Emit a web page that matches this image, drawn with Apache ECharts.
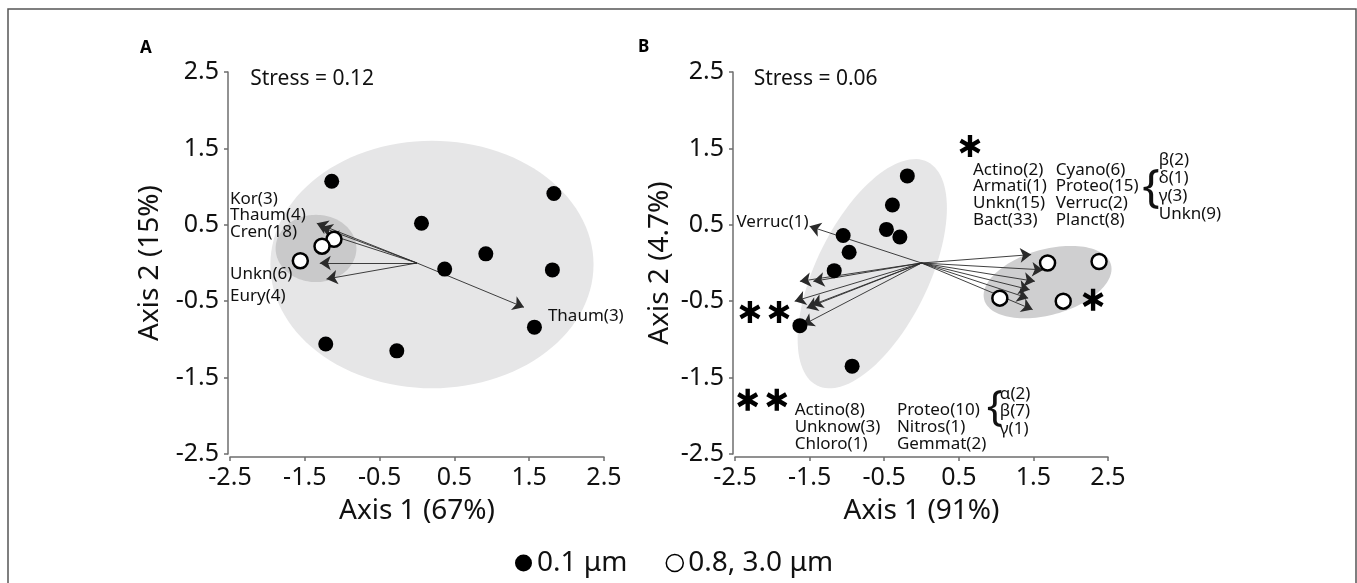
<!DOCTYPE html>
<html><head><meta charset="utf-8">
<script src="https://cdn.jsdelivr.net/npm/echarts@6/dist/echarts.min.js"></script>
<style>html,body{margin:0;padding:0;background:#fff}#c{width:1357px;height:583px}</style>
</head><body><div id="c"></div>
<script>
// ---------- data ----------
const tickVals = [-2.5, -1.5, -0.5, 0.5, 1.5, 2.5];
const seriesNames = ['0.1 μm', '0.8, 3.0 μm'];

// Panel A (Axis 1 67%, Axis 2 15%)
const aBlack = [[-1.14,1.07],[1.83,0.91],[0.06,0.52],[0.92,0.12],[0.37,-0.08],[1.81,-0.09],[1.57,-0.84],[-1.22,-1.06],[-0.27,-1.15]];
const aWhite = [[-1.11,0.31],[-1.27,0.22],[-1.56,0.03]];
const aVectorOrigin = [0, 0];
const aVectorTips = [[-1.34,0.52],[-1.28,0.47],[-1.20,0.38],[-1.30,0.00],[-1.21,-0.21],[1.43,-0.58]];
const aEllipses = [[0.20,-0.02,2.16,1.62,0],[-1.35,0.19,0.54,0.44,0]]; // cx, cy, a, b, angle
const aTexts = ['Stress = 0.12','Kor(3)','Thaum(4)','Cren(18)','Unkn(6)','Eury(4)','Thaum(3)'];

// Panel B (Axis 1 91%, Axis 2 4.7%)
const bBlack = [[-0.19,1.14],[-0.39,0.76],[-0.47,0.44],[-0.29,0.34],[-1.05,0.36],[-0.97,0.14],[-1.17,-0.10],[-1.63,-0.82],[-0.93,-1.35]];
const bWhite = [[1.69,0.00],[2.38,0.02],[1.05,-0.46],[1.90,-0.50]];
const bVectorOrigin = [0, 0];
const bVectorTips = [[-1.50,0.48],[-1.63,-0.24],[-1.45,-0.24],[-1.70,-0.50],[-1.54,-0.59],[-1.47,-0.55],[-1.59,-0.81],
                     [1.47,0.11],[1.63,-0.09],[1.52,-0.24],[1.45,-0.35],[1.43,-0.46],[1.49,-0.61]];
const bEllipses = [[-0.66,-0.14,1.64,0.75,63],[1.69,-0.25,0.88,0.43,15]];
const bStars = [[0.65,1.53],[2.30,-0.48],[-2.30,-0.64],[-1.91,-0.64],[-2.33,-1.79],[-1.94,-1.79]];
const bTexts = ['Stress = 0.06','Verruc(1)',
  'Actino(2)\nArmati(1)\nUnkn(15)\nBact(33)','Cyano(6)\nProteo(15)\nVerruc(2)\nPlanct(8)','{','β(2)\nδ(1)\nγ(3)\nUnkn(9)',
  'Actino(8)\nUnknow(3)\nChloro(1)','Proteo(10)\nNitros(1)\nGemmat(2)','{','α(2)\nβ(7)\nγ(1)'];

// ---------- layout (annotation anchor points, in axis units) ----------
const aTextPos = [[-2.23,2.41],[-2.5,0.83],[-2.5,0.63],[-2.5,0.40],[-2.5,-0.15],[-2.5,-0.44],[1.75,-0.69]];
const aTextSize = [21,17,17,17,17,17,17];
const bTextPos = [[-2.25,2.41],[-2.48,0.54],[0.69,0.89],[1.80,0.89],[2.96,0.97],[3.18,0.99],[-1.70,-2.15],[-0.33,-2.15],[0.875,-1.90],[1.05,-1.94]];
const bTextSize = [21,17,17,17,46,17,17,17,42,17];
const bTextLH = [24,17,16.7,16.7,46,18,17,17,42,17.5];

const F = '"Noto Sans", "DejaVu Sans", sans-serif';
const TXT = '#111';
const AX = '#6e6e6e';
const STAR = 'path://M-2,-10L-2,10L2,10L2,-10Z M7.66,6.73L9.66,3.27L-7.66,-6.73L-9.66,-3.27Z M-9.66,3.27L-7.66,6.73L9.66,-3.27L7.66,-6.73Z';

function xAx(g, name) {
  return {type:'value', gridIndex:g, min:-2.5, max:2.5, offset:3,
    name, nameLocation:'middle', nameGap:40,
    nameTextStyle:{fontSize:28, color:TXT, fontFamily:F},
    axisLine:{show:true, onZero:false, lineStyle:{color:AX, width:1.5}},
    axisTick:{show:true, length:4, customValues:tickVals, lineStyle:{color:AX, width:1.5}},
    axisLabel:{customValues:tickVals, fontSize:25, color:TXT, margin:8, fontFamily:F},
    splitLine:{show:false}};
}
function yAx(g, name, gap) {
  return {type:'value', gridIndex:g, min:-2.5, max:2.5, offset:2,
    name, nameLocation:'middle', nameGap:gap,
    nameTextStyle:{fontSize:28, color:TXT, fontFamily:F},
    axisLine:{show:true, onZero:false, lineStyle:{color:AX, width:1.5}},
    axisTick:{show:true, length:4, customValues:tickVals, lineStyle:{color:AX, width:1.5}},
    axisLabel:{customValues:tickVals, fontSize:25, color:TXT, margin:9, fontFamily:F},
    splitLine:{show:false}};
}
function ellipseSeries(g, params, color) {
  return {type:'custom', xAxisIndex:g, yAxisIndex:g, silent:true, z:1, clip:false,
    data:[params], encode:{x:0, y:1},
    renderItem:(p, api) => {
      const cx=api.value(0), cy=api.value(1), a=api.value(2), b=api.value(3), ang=api.value(4)*Math.PI/180;
      const pts=[];
      for (let i=0;i<120;i++){
        const t=i/120*2*Math.PI, dx=a*Math.cos(t), dy=b*Math.sin(t);
        pts.push(api.coord([cx+dx*Math.cos(ang)-dy*Math.sin(ang), cy+dx*Math.sin(ang)+dy*Math.cos(ang)]));
      }
      return {type:'polygon', shape:{points:pts}, style:{fill:color}};
    }};
}
function vectorSeries(g, origin, tips) {
  return {type:'lines', coordinateSystem:'cartesian2d', xAxisIndex:g, yAxisIndex:g, z:2, silent:true,
    symbol:['none','arrow'], symbolSize:11,
    lineStyle:{color:'#2a2a2a', width:0.9, opacity:1},
    data:tips.map(t => ({coords:[origin, t]}))};
}
function pointSeries(g, name, data, white) {
  return {type:'scatter', name, xAxisIndex:g, yAxisIndex:g, z:3, data, symbol:'circle', symbolSize:15, clip:false,
    itemStyle: white ? {color:'#fff', borderColor:'#000', borderWidth:2.5, opacity:1} : {color:'#000', opacity:1}};
}
function textSeries(g, texts, pos, sizes, lhs) {
  return {type:'scatter', xAxisIndex:g, yAxisIndex:g, z:4, symbolSize:0, clip:false, silent:true,
    itemStyle:{opacity:1},
    data: texts.map((t,i) => ({value:pos[i], name:t,
      label:{show:true, formatter:t, position:[0,0], align:'left', verticalAlign:'middle', opacity:1,
        fontSize:sizes[i], lineHeight: lhs ? lhs[i] : 17, color:TXT, fontFamily:F}}))};
}

const chart = echarts.init(document.getElementById('c'), null, {renderer:'canvas'});
chart.setOption({
  animation:false,
  backgroundColor:'#fff',
  grid:[{left:230, top:72, width:374, height:382}, {left:735, top:72, width:373, height:382}],
  xAxis:[xAx(0,'Axis 1 (67%)'), xAx(1,'Axis 1 (91%)')],
  yAxis:[yAx(0,'Axis 2 (15%)',64), yAx(1,'Axis 2 (4.7%)',59)],
  legend:{left:515, top:549, itemWidth:17, itemHeight:17, itemGap:38, padding:0, selectedMode:false,
    textStyle:{fontSize:28, color:TXT, fontFamily:F},
    data:[{name:seriesNames[0], icon:'circle', itemStyle:{color:'#000', opacity:1}},
          {name:seriesNames[1], icon:'circle', itemStyle:{color:'#fff', borderColor:'#000', borderWidth:1.5, opacity:1}}]},
  graphic:[
    {type:'rect', shape:{x:8, y:9, width:1348, height:620}, style:{fill:'none', stroke:'#555', lineWidth:1.5}, silent:true},
    {type:'text', left:140, top:40, style:{text:'A', font:'bold 17px '+F, fill:'#000'}},
    {type:'text', left:638, top:39, style:{text:'B', font:'bold 17px '+F, fill:'#000'}}
  ],
  series:[
    ellipseSeries(0, aEllipses[0], '#e6e6e7'),
    ellipseSeries(0, aEllipses[1], '#c9c9ca'),
    vectorSeries(0, aVectorOrigin, aVectorTips),
    pointSeries(0, seriesNames[0], aBlack, false),
    pointSeries(0, seriesNames[1], aWhite, true),
    textSeries(0, aTexts, aTextPos, aTextSize),
    ellipseSeries(1, bEllipses[0], '#e6e6e7'),
    ellipseSeries(1, bEllipses[1], '#cfcfd0'),
    vectorSeries(1, bVectorOrigin, bVectorTips),
    pointSeries(1, seriesNames[0], bBlack, false),
    pointSeries(1, seriesNames[1], bWhite, true),
    {type:'scatter', xAxisIndex:1, yAxisIndex:1, z:4, data:bStars, symbol:STAR, symbolSize:[21,22], silent:true, clip:false,
      itemStyle:{color:'#000', opacity:1}},
    textSeries(1, bTexts, bTextPos, bTextSize, bTextLH)
  ]
});
</script></body></html>
